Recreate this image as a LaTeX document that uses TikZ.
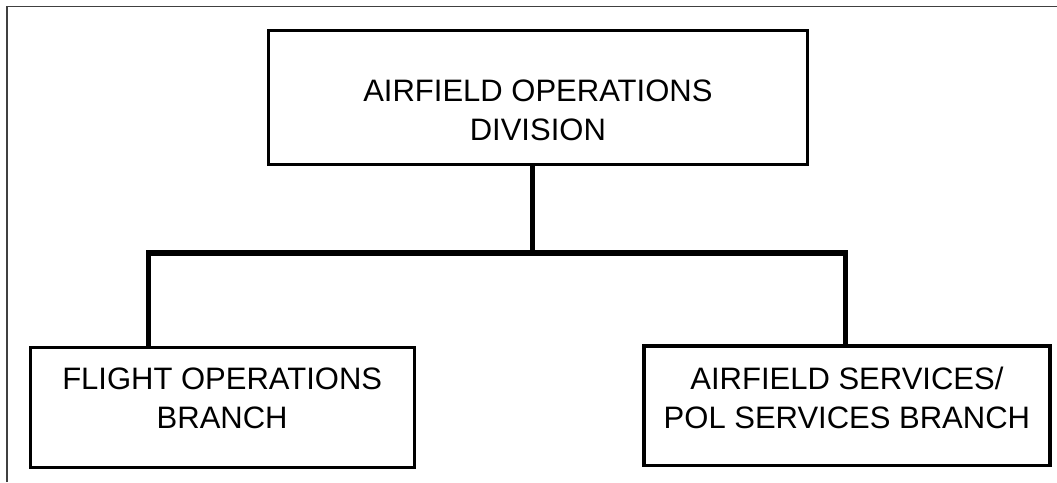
\documentclass[tikz,border=0pt]{standalone}
\usepackage{fontspec}
\setmainfont{Liberation Sans}
\begin{document}
\begin{tikzpicture}[x=1pt,y=-1pt,
  orgbox/.style={draw=black, line width=3.2pt, rectangle, inner sep=0pt, align=center,
    font=\fontsize{31}{39}\selectfont, anchor=north west},
  conn/.style={draw=black, line width=5.5pt, line join=miter, line cap=butt},
  frameline/.style={draw=black!75, line width=1.5pt}]
\useasboundingbox (0,0) rectangle (1057,482);
\draw[frameline] (7,482) -- (7,6.5) -- (1057,6.5);
\node[orgbox, minimum width=538.5pt, text height=110.5pt, text depth=24pt] (top) at (267,28.5)
  {AIRFIELD OPERATIONS\\DIVISION};
\node[orgbox, minimum width=383.8pt, text height=81.5pt, text depth=39pt] (lb) at (28.7,345.5)
  {FLIGHT OPERATIONS\\BRANCH};
\node[orgbox, minimum width=406pt, text height=82.7pt, text depth=37.2pt] (rb) at (642.3,344.3)
  {AIRFIELD SERVICES/\\POL SERVICES BRANCH};
\coordinate (jt) at (532.5,253);
\coordinate (jl) at (148.5,253);
\coordinate (jr) at (845.5,253);
\draw[conn] (top.south -| jt) -- (jt);
\draw[conn] (lb.north -| jl) -- (jl) -- (jr) -- (rb.north -| jr);
\end{tikzpicture}
\end{document}
